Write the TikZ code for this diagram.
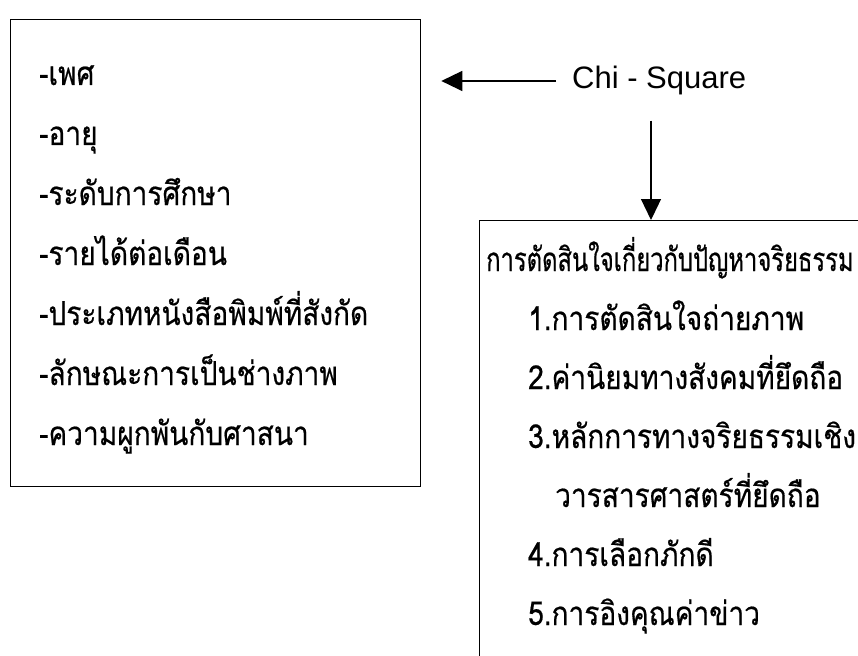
\documentclass[tikz,border=0pt]{standalone}
\usepackage{fontspec}
\setmainfont{Liberation Sans}
\newfontfamily\thaifont[Script=Thai,FakeStretch=0.85,FakeBold=0.5]{Loma}
\newfontfamily\thaihead[Script=Thai,FakeStretch=0.72,FakeBold=0.5]{Loma}
\usetikzlibrary{arrows.meta}

\tikzset{
  frame/.style={draw, line width=1.3pt, inner sep=0pt, anchor=north west},
  item/.style={anchor=base west, inner sep=0pt, font=\thaifont\fontsize{33}{38}\selectfont},
  arr/.style={line width=1.3pt, -{Triangle[length=21pt,width=20pt]}},
}

\begin{document}
\begin{tikzpicture}[x=1pt,y=-1pt]
  \clip (0,0) rectangle (858,655);
  % the two boxes
  \node[frame, minimum width=410pt, minimum height=467pt] (lbox) at (10,19) {};
  \node[frame, minimum width=420pt, minimum height=470pt] (rbox) at (479,220) {};
  % left box items
  \foreach \t [count=\i] in {-เพศ, -อายุ, -ระดับการศึกษา, -รายได้ต่อเดือน,
      -ประเภทหนังสือพิมพ์ที่สังกัด, -ลักษณะการเป็นช่างภาพ, -ความผูกพันกับศาสนา}
    \node[item] (l\i) at (39,{85+60*(\i-1)}) {\t};
  % right box items
  \node[item, font=\thaihead\fontsize{33}{38}\selectfont] (head) at (486,271) {การตัดสินใจเกี่ยวกับปัญหาจริยธรรม};
  \node[item] (r1) at (528,330) {1.การตัดสินใจถ่ายภาพ};
  \node[item] (r2) at (528,389) {2.ค่านิยมทางสังคมที่ยึดถือ};
  \node[item] (r3) at (528,448) {3.หลักการทางจริยธรรมเชิง};
  \node[item] (r3b) at (555,507) {วารสารศาสตร์ที่ยึดถือ};
  \node[item] (r4) at (528,566) {4.การเลือกภักดี};
  \node[item] (r5) at (528,625) {5.การอิงคุณค่าข่าว};
  % test label and arrows
  \node[anchor=base west, inner sep=0pt, font=\fontsize{31}{36}\selectfont] (chi) at (572,89) {Chi - Square};
  \coordinate (dn) at (651,0);
  \draw[arr, shorten <=16pt, shorten >=20pt] (chi.west) -- (chi.west -| lbox.east);
  \draw[arr, shorten <=25pt] (chi.south -| dn) -- (rbox.north -| dn);
\end{tikzpicture}
\end{document}
